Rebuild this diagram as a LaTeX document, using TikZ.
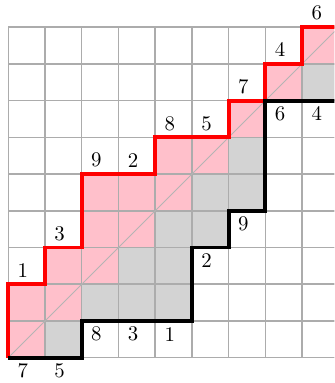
\documentclass[tikz,border=0pt]{standalone}
\definecolor{pinkc}{RGB}{255,192,203}
\definecolor{grayc}{RGB}{211,211,211}
\definecolor{gridc}{RGB}{172,172,172}
\definecolor{diagc}{RGB}{180,180,180}
\begin{document}
\begin{tikzpicture}[x=0.62cm,y=0.62cm,
  gridline/.style={draw=gridc, line width=0.7pt},
  diagline/.style={draw=diagc, line width=0.4pt},
  redpath/.style={draw=red, line width=1.9pt},
  blackpath/.style={draw=black, line width=1.9pt},
  lbl/.style={inner sep=0pt, font=\normalsize}]
\useasboundingbox (-0.225,-0.69) rectangle (8.88,9.74);
\clip (-0.225,-0.69) rectangle (8.88,9.74);
\foreach \x/\y in {0/0,0/1,1/1,1/2,2/2,2/3,3/3,2/4,3/4,4/4,4/5,5/5,6/6,7/7,8/8}
  \fill[pinkc] (\x,\y) rectangle ++(1,1);
\foreach \x/\y in {1/0,2/1,3/1,4/1,3/2,4/2,4/3,5/3,5/4,6/4,6/5,8/7}
  \fill[grayc] (\x,\y) rectangle ++(1,1);
\foreach \i in {0,...,10} \draw[gridline] (\i,0) -- (\i,9);
\foreach \j in {0,...,9} \draw[gridline] (0,\j) -- (10,\j);
\draw[diagline] (0,0) -- (9.5,9.5);
\draw[redpath] (0,0) -- (0,2) -- (1,2) -- (1,3) -- (2,3) -- (2,5) -- (4,5) -- (4,6) -- (6,6) -- (6,7) -- (7,7) -- (7,8) -- (8,8) -- (8,9) -- (9.5,9);
\draw[blackpath] (0,0) -- (2,0) -- (2,1) -- (5,1) -- (5,3) -- (6,3) -- (6,4) -- (7,4) -- (7,7) -- (9.5,7);
% labels above the red path
\node[lbl] (r1) at (0.4,2.38) {1};
\node[lbl] (r2) at (1.4,3.38) {3};
\node[lbl] (r3) at (2.4,5.38) {9};
\node[lbl] (r4) at (3.4,5.38) {2};
\node[lbl] (r5) at (4.4,6.38) {8};
\node[lbl] (r6) at (5.4,6.38) {5};
\node[lbl] (r7) at (6.4,7.38) {7};
\node[lbl] (r8) at (7.4,8.38) {4};
\node[lbl] (r9) at (8.4,9.38) {6};
% labels below the black path
\node[lbl] (b1) at (0.4,-0.35) {7};
\node[lbl] (b2) at (1.4,-0.35) {5};
\node[lbl] (b3) at (2.4,0.64) {8};
\node[lbl] (b4) at (3.4,0.64) {3};
\node[lbl] (b5) at (4.4,0.64) {1};
\node[lbl] (b6) at (5.4,2.64) {2};
\node[lbl] (b7) at (6.4,3.64) {9};
\node[lbl] (b8) at (7.4,6.64) {6};
\node[lbl] (b9) at (8.4,6.64) {4};
\end{tikzpicture}
\end{document}
